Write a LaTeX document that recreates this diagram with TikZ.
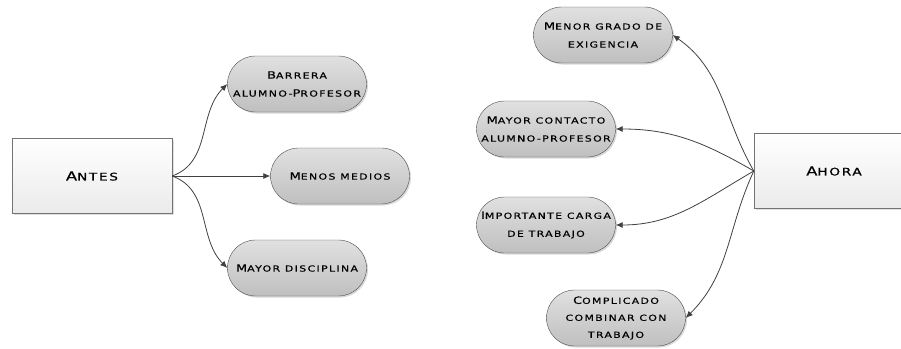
\documentclass[tikz,border=0pt]{standalone}
\usepackage{fontspec}
\usetikzlibrary{shapes.misc,shadows,arrows.meta}

\newfontfamily\mapfont[LetterSpace=16,FakeBold=0.5,FakeStretch=1.3]{DejaVu Sans}
\newcommand\smc[1]{{\fontsize{8.4}{18}\selectfont #1}}
\newcommand\tsmc[1]{{\fontsize{10.5}{14}\selectfont #1}}

\begin{document}
\begin{tikzpicture}[x=1pt, y=-1pt, >={Latex[length=7pt,width=6pt]},
    topic/.style = {draw=black!55, rectangle, minimum width=160pt, minimum height=75pt,
        top color=white, bottom color=black!8, drop shadow={opacity=0.25, shadow xshift=1.5pt, shadow yshift=-1.5pt},
        font=\mapfont\fontsize{12.5}{14}\selectfont},
    idea/.style = {draw=black!70, rounded rectangle, minimum width=141pt, minimum height=56pt, inner sep=1pt,
        top color=black!12, bottom color=black!25, drop shadow={opacity=0.3, shadow xshift=1.5pt, shadow yshift=-1.5pt},
        align=center, font=\mapfont\fontsize{10}{18}\selectfont},
    link/.style = {->, draw=black!75, line width=0.8pt}]
    \useasboundingbox (0,0) rectangle (901,348);
    % left side
    \node[topic] (antes) at (92,176) {A\tsmc{NTES}};
    \node[idea] (barrera) at (297,84) {B\smc{ARRERA}\\\smc{ALUMNO-}P\smc{ROFESOR}};
    \node[idea] (menos) at (340,176) {M\smc{ENOS MEDIOS}};
    \node[idea] (disciplina) at (297,268) {M\smc{AYOR DISCIPLINA}};
    % right side
    \node[topic] (ahora) at (834,171) {A\tsmc{HORA}};
    \node[idea] (menor) at (603,35) {M\smc{ENOR GRADO DE}\\\smc{EXIGENCIA}};
    \node[idea] (contacto) at (546,129) {M\smc{AYOR CONTACTO}\\\smc{ALUMNO-PROFESOR}};
    \node[idea] (carga) at (546,225) {I\smc{MPORTANTE CARGA}\\\smc{DE TRABAJO}};
    \node[idea, font=\mapfont\fontsize{10}{17}\selectfont] (complicado) at (616,318) {C\smc{OMPLICADO}\\\smc{COMBINAR CON}\\\smc{TRABAJO}};
    \draw[link] (antes.east) to[out=20, in=225] (barrera.west);
    \draw[link] (antes.east) -- (menos.west);
    \draw[link] (antes.east) to[out=-20, in=135] (disciplina.west);
    \draw[link] (ahora.west) to[out=120, in=-35] (menor.east);
    \draw[link] (ahora.west) to[out=150, in=0] (contacto.east);
    \draw[link] (ahora.west) to[out=210, in=0] (carga.east);
    \draw[link] (ahora.west) to[out=245, in=45] (complicado.east);
\end{tikzpicture}
\end{document}
